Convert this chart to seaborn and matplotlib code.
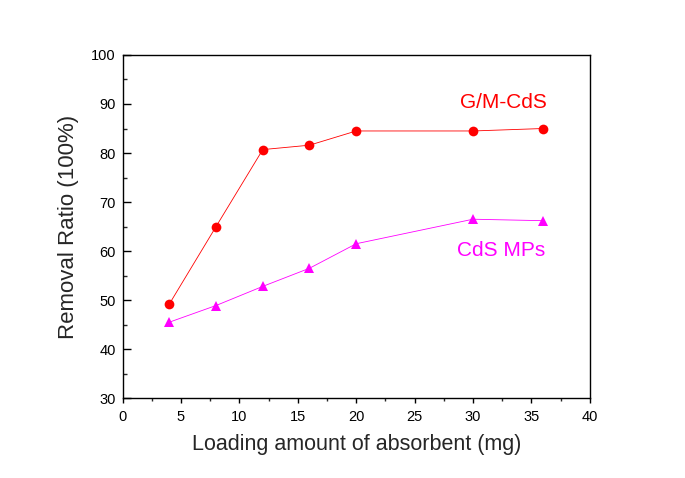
import pandas as pd
import seaborn as sns
import matplotlib.pyplot as plt
from matplotlib.ticker import MultipleLocator

# Data
loading = [4, 8, 12, 16, 20, 30, 36]
gm_cds = [49.2, 65.0, 80.7, 81.6, 84.5, 84.5, 85.0]
cds_mps = [45.5, 48.9, 52.8, 56.5, 61.5, 66.5, 66.2]

df = pd.DataFrame({
    'loading': loading * 2,
    'ratio': gm_cds + cds_mps,
    'sample': ['G/M-CdS'] * len(loading) + ['CdS MPs'] * len(loading),
})

sns.set_style("ticks")
plt.rcParams['font.family'] = ['Liberation Sans', 'DejaVu Sans']

fig = plt.figure(figsize=(6.85, 4.78), dpi=100)
ax = fig.add_axes([0.179, 0.167, 0.682, 0.718])

colors = {'G/M-CdS': '#ff0000', 'CdS MPs': '#ff00ff'}
markers = {'G/M-CdS': 'o', 'CdS MPs': '^'}
for name, grp in df.groupby('sample', sort=False):
    sns.lineplot(x='loading', y='ratio', data=grp, ax=ax, color=colors[name],
                 marker=markers[name], markersize=7, markeredgewidth=0,
                 linewidth=0.6, legend=False)

ax.text(32.6, 90.4, 'G/M-CdS', color='#ff0000', fontsize=15, ha='center', va='center')
ax.text(32.4, 60.2, 'CdS MPs', color='#ff00ff', fontsize=15, ha='center', va='center')

ax.set_xlim(0, 40)
ax.set_ylim(30, 100)
ax.xaxis.set_major_locator(MultipleLocator(5))
ax.xaxis.set_minor_locator(MultipleLocator(2.5))
ax.yaxis.set_major_locator(MultipleLocator(10))
ax.yaxis.set_minor_locator(MultipleLocator(5))
ax.tick_params(axis='x', which='major', direction='out', length=3.8, width=1, pad=5,
               labelsize=10.5, colors='black')
ax.tick_params(axis='x', which='minor', direction='out', length=2.3, width=1)
ax.tick_params(axis='y', which='major', direction='in', length=5.5, width=1, pad=5,
               labelsize=10.5, colors='black')
ax.tick_params(axis='y', which='minor', direction='in', length=3, width=1)
for s in ax.spines.values():
    s.set_linewidth(1)
    s.set_color('black')
ax.spines['top'].set_visible(True)
ax.spines['right'].set_visible(True)

ax.set_xlabel('Loading amount of absorbent (mg)', fontsize=15.5, labelpad=7)
ax.set_ylabel('Removal Ratio (100%)', fontsize=16, labelpad=9)

plt.savefig('out.png', dpi=100)
